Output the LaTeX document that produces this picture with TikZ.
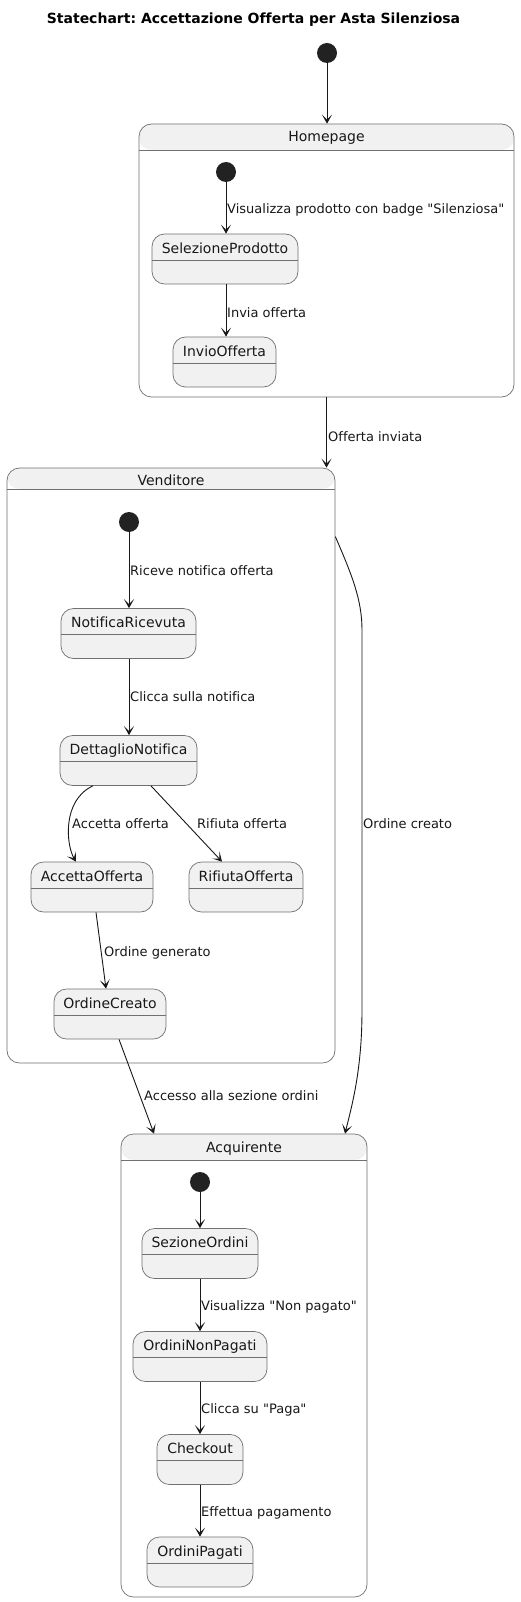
\documentclass[tikz,border=0pt]{standalone}
\usepackage{fontspec}
\setmainfont{DejaVu Sans}[Ligatures={TeXOff,NoCommon}]
\frenchspacing
\usetikzlibrary{arrows.meta,calc}
\definecolor{stfill}{HTML}{F1F1F1}
\definecolor{stline}{HTML}{707070}
\definecolor{ink}{HTML}{181818}
\definecolor{dotc}{HTML}{222222}
\tikzset{
  st/.style={draw=stline, line width=0.7pt, fill=stfill, rounded corners=12.5pt,
    minimum height=50pt, inner xsep=0pt, inner ysep=0pt, text height=19.3pt, text depth=30.7pt,
    font=\fontsize{14}{16}\selectfont, text=ink,
    path picture={\draw[stline, line width=0.7pt]
      ([yshift=-26pt]path picture bounding box.north west) --
      ([yshift=-26pt]path picture bounding box.north east);}},
  comp/.style={draw=stline, line width=0.7pt, fill=white, rounded corners=12.5pt, inner sep=0pt,
    path picture={\fill[stfill] (path picture bounding box.north west) rectangle
      ([yshift=-#1]path picture bounding box.north east);
      \draw[stline, line width=0.7pt]
      ([yshift=-#1]path picture bounding box.north west) --
      ([yshift=-#1]path picture bounding box.north east);}},
  comp/.default=26pt,
  ctitle/.style={font=\fontsize{14}{16}\selectfont, text=ink, anchor=base, inner sep=0pt},
  initdot/.style={circle, fill=dotc, minimum size=20pt, inner sep=0pt, draw=none},
  arr/.style={draw=ink, line width=0.9pt, -{Stealth[length=9pt,width=10pt,inset=5pt]}},
  lbl/.style={font=\fontsize{13}{15}\selectfont, text=ink, anchor=base west, inner sep=0pt},
}
\begin{document}
\begin{tikzpicture}[x=1pt,y=-1pt]
\useasboundingbox[fill=white] (0,0) rectangle (520,1602);

\node[font=\fontsize{14}{16}\selectfont\bfseries, anchor=base, inner sep=0pt] (title) at (253.5,23.3)
  {Statechart: Accettazione Offerta per Asta Silenziosa};

% composite states
\node[comp, minimum width=375pt, minimum height=273pt] (home) at (326.5,260.5) {};
\node[ctitle] (homeT) at (326.5,141.7) {Homepage};
\node[comp=21pt, minimum width=328pt, minimum height=595pt] (vend) at (171,765.5) {};
\node[ctitle] (vendT) at (171,485.7) {Venditore};
\node[comp, minimum width=246pt, minimum height=463pt] (acq) at (244,1365.5) {};
\node[ctitle] (acqT) at (244,1152.7) {Acquirente};

% initial dots
\node[initdot] (i0) at (327,53) {};
\node[initdot] (i1) at (226,172) {};
\node[initdot] (i2) at (129,522) {};
\node[initdot] (i3) at (200,1182) {};

% simple states
\node[st, minimum width=146pt] (sel) at (225,259) {SelezioneProdotto};
\node[st, minimum width=103pt] (inv) at (224.5,362) {InvioOfferta};
\node[st, minimum width=135pt] (notif) at (128.5,633.5) {NotificaRicevuta};
\node[st, minimum width=137pt] (dett) at (128.5,760.5) {DettaglioNotifica};
\node[st, minimum width=122pt] (acc) at (92,887) {AccettaOfferta};
\node[st, minimum width=114pt] (rif) at (246,887) {RifiutaOfferta};
\node[st, minimum width=112pt] (ord) at (110,1014) {OrdineCreato};
\node[st, minimum width=116pt] (sez) at (200,1253.5) {SezioneOrdini};
\node[st, minimum width=134pt] (onp) at (200,1356.5) {OrdiniNonPagati};
\node[st, minimum width=86pt] (chk) at (200,1459.5) {Checkout};
\node[st, minimum width=106pt] (opg) at (200,1562) {OrdiniPagati};

% connectors
\draw[arr] (i0) -- (i0 |- home.north);
\draw[arr] (i1) -- (i1 |- sel.north);
\draw[arr] (i1 |- sel.south) -- (i1 |- inv.north);
\draw[arr] (home.south) -- (home.south |- vend.north);
\draw[arr] (i2) -- (i2 |- notif.north);
\draw[arr] (i2 |- notif.south) -- (i2 |- dett.north);
\draw[arr] ([xshift=-35.5pt]dett.south) .. controls (62,800) and (66,845) .. ([xshift=-16pt]acc.north);
\draw[arr] ([xshift=22.5pt]dett.south) -- ([xshift=-24pt]rif.north);
\draw[arr] ([xshift=4pt]acc.south) -- ([xshift=-4pt]ord.north);
\draw[arr] ([xshift=9pt]ord.south) -- ([xshift=-90pt]acq.north);
\draw[arr] ([yshift=-69pt]vend.north east) .. controls (352,575) and (362,600) .. (362,630)
  -- (362,1010) .. controls (362,1070) and (352,1105) .. ([xshift=101pt]acq.north);
\draw[arr] (i3) -- (i3 |- sez.north);
\draw[arr] (sez.south) -- (onp.north);
\draw[arr] (onp.south) -- (chk.north);
\draw[arr] (chk.south) -- (opg.north);

% labels
\node[lbl] (l1) at (227,213.5) {Visualizza prodotto con badge "Silenziosa"};
\node[lbl] (l2) at (227,317) {Invia offerta};
\node[lbl] (l3) at (328,441.7) {Offerta inviata};
\node[lbl] (l4) at (130,575.7) {Riceve notifica offerta};
\node[lbl] (l5) at (130,701.8) {Clicca sulla notifica};
\node[lbl] (l6) at (72,828.8) {Accetta offerta};
\node[lbl] (l7) at (197,828.8) {Rifiuta offerta};
\node[lbl] (l8) at (363,828.8) {Ordine creato};
\node[lbl] (l9) at (104,956.7) {Ordine generato};
\node[lbl] (l10) at (144,1100.8) {Accesso alla sezione ordini};
\node[lbl] (l11) at (201,1310.7) {Visualizza "Non pagato"};
\node[lbl] (l12) at (201,1413.5) {Clicca su "Paga"};
\node[lbl] (l13) at (201,1516.7) {Effettua pagamento};
\end{tikzpicture}
\end{document}
